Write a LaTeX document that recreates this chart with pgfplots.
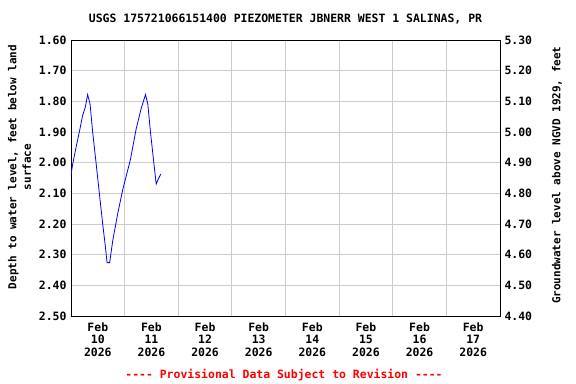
\documentclass[border=0pt]{standalone}
\usepackage{fontspec}
\setmainfont{DejaVu Sans Mono}
\usepackage{pgfplots}
\pgfplotsset{compat=1.18}
\definecolor{gridgray}{RGB}{204,204,204}
\begin{document}
\begin{tikzpicture}
\path[use as bounding box] (0,0) rectangle (576bp,384bp);
\begin{axis}[
  at={(71bp,68bp)}, anchor=south west,
  scale only axis, width=429bp, height=276bp,
  xmin=0, xmax=8, ymin=1.6, ymax=2.5, y dir=reverse,
  xtick={0.5,1.5,...,7.5},
  xticklabels={{Feb\\10\\2026},{Feb\\11\\2026},{Feb\\12\\2026},{Feb\\13\\2026},{Feb\\14\\2026},{Feb\\15\\2026},{Feb\\16\\2026},{Feb\\17\\2026}},
  minor xtick={1,2,...,7},
  xminorgrids=true, xmajorgrids=false,
  ytick={1.6,1.7,...,2.51},
  ymajorgrids=true,
  grid style={gridgray, line width=0.8bp},
  minor grid style={gridgray, line width=0.8bp},
  major tick length=0pt, minor tick length=0pt,
  axis line style={black, line width=0.9bp},
  tick label style={font=\fontsize{11.5}{12.7}\selectfont\bfseries},
  xticklabel style={align=center, yshift=-3bp},
  yticklabel style={xshift=-1bp},
  /pgf/number format/assume math mode=true,
  yticklabel={\pgfmathprintnumber[fixed,fixed zerofill,precision=2]{\tick}},
  ylabel={Depth to water level, feet below land\\surface},
  ylabel style={align=center, anchor=center, at={(axis description cs:-0.120,0.54)}, font=\fontsize{11}{14.5}\selectfont\bfseries},
  title={USGS 175721066151400 PIEZOMETER JBNERR WEST 1 SALINAS, PR},
  title style={anchor=center, at={(axis description cs:0.5,1.056)}, font=\fontsize{11.5}{13}\selectfont\bfseries},
  clip=true,
]
\addplot[blue, line width=0.8bp] coordinates {
(0,2.04)(0.030,2.006)(0.093,1.951)(0.155,1.90)(0.217,1.846)(0.267,1.819)(0.310,1.778)(0.355,1.808)(0.404,1.90)(0.467,2.00)(0.529,2.10)(0.591,2.20)(0.636,2.266)(0.673,2.326)(0.721,2.326)(0.778,2.255)(0.871,2.166)(0.964,2.089)(1.028,2.045)(1.108,1.99)(1.215,1.89)(1.308,1.824)(1.389,1.778)(1.432,1.808)(1.482,1.90)(1.538,1.99)(1.589,2.07)(1.626,2.054)(1.675,2.037)
};
\end{axis}
\begin{axis}[
  at={(71bp,68bp)}, anchor=south west,
  scale only axis, width=429bp, height=276bp,
  xmin=0, xmax=8, ymin=4.4, ymax=5.3,
  axis y line*=right, axis x line=none,
  ytick={4.4,4.5,...,5.31},
  major tick length=0pt,
  axis line style={black, line width=0.9bp},
  tick label style={font=\fontsize{11.5}{12.7}\selectfont\bfseries},
  yticklabel style={xshift=1bp},
  /pgf/number format/assume math mode=true,
  yticklabel={\pgfmathprintnumber[fixed,fixed zerofill,precision=2]{\tick}},
  ylabel={Groundwater level above NGVD 1929, feet},
  ylabel style={anchor=center, at={(axis description cs:1.133,0.51)}, font=\fontsize{11}{13}\selectfont\bfseries},
]
\end{axis}
\node[text=red, font=\fontsize{11.5}{13}\selectfont\bfseries] at (284bp,9bp) {-{}-{}-{}- Provisional Data Subject to Revision -{}-{}-{}-};
\end{tikzpicture}
\end{document}
